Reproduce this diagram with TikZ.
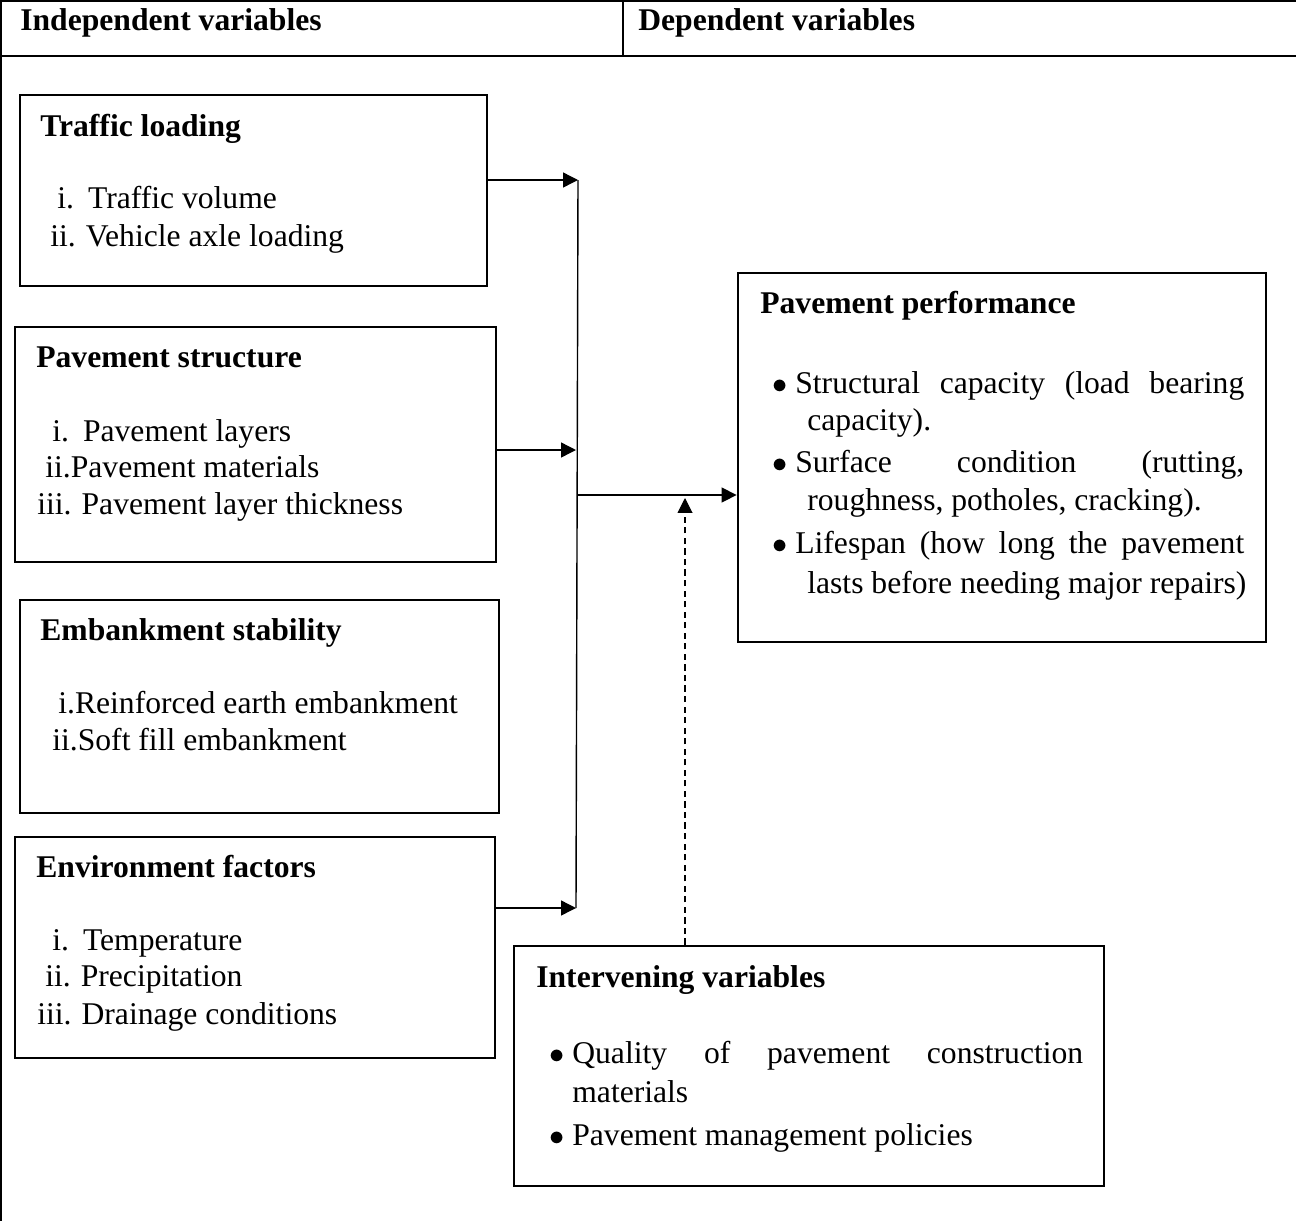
\documentclass[tikz,border=0pt]{standalone}
\usepackage{fontspec}
\setmainfont{Liberation Serif}
\usetikzlibrary{arrows.meta,positioning,fit}
\newcommand{\fs}{\fontsize{18}{22}\selectfont}
\newcommand{\bul}{\makebox[0.46cm][l]{$\bullet$}}

\begin{document}
\begin{tikzpicture}[x=0.02cm,y=-0.02cm,>=Stealth,font=\fs]
\tikzset{box/.style={draw,line width=1.6pt,inner sep=0pt,fill=none},
  frame/.style={line width=1.4pt},
  txt/.style={anchor=base west,inner sep=0pt},
  arr/.style={-{Triangle[length=8.5pt,width=8.5pt]},line width=0.8pt},
  darr/.style={-{Triangle[length=8.5pt,width=8.5pt]},line width=0.6pt,dash pattern=on 3.5pt off 2.5pt}}
\useasboundingbox (0,0) rectangle (1296,1221);
% table frame
\draw[frame] (1,1) -- (1296,1);
\draw[frame] (1,56) -- (1296,56);
\draw[frame] (1,0) -- (1,1221);
\draw[frame] (623,1) -- (623,56);
\node[txt] (hi) at (20,30) {\textbf{Independent variables}};
\node[txt] (hd) at (638,30) {\textbf{Dependent variables}};
% independent variables
\node[box,fit={(20,95)(487,286)}] (tl) {};
\node[txt] (tl-h) at (40,136) {\textbf{Traffic loading}};
\node[txt] (tl-1) at (57,208) {i.\hspace{0.28cm}Traffic volume};
\node[txt] (tl-2) at (50,246) {ii.\hspace{0.2cm}Vehicle axle loading};
\node[box,fit={(15,327)(496,562)}] (ps) {};
\node[txt] (ps-h) at (36,367) {\textbf{Pavement structure}};
\node[txt] (ps-1) at (52,441) {i.\hspace{0.28cm}Pavement layers};
\node[txt] (ps-2) at (45,477) {ii.Pavement materials};
\node[txt] (ps-3) at (37,514) {iii.\hspace{0.2cm}Pavement layer thickness};
\node[box,fit={(20,600)(499,813)}] (es) {};
\node[txt] (es-h) at (40,640) {\textbf{Embankment stability}};
\node[txt] (es-1) at (58,713) {i.Reinforced earth embankment};
\node[txt] (es-2) at (52,750) {ii.Soft fill embankment};
\node[box,fit={(15,837)(495,1058)}] (ef) {};
\node[txt] (ef-h) at (36,877) {\textbf{Environment factors}};
\node[txt] (ef-1) at (52,950) {i.\hspace{0.28cm}Temperature};
\node[txt] (ef-2) at (45,986) {ii.\hspace{0.2cm}Precipitation};
\node[txt] (ef-3) at (37,1024) {iii.\hspace{0.2cm}Drainage conditions};
% dependent variable
\node[box,fit={(738,273)(1266,642)}] (pp) {};
\node[txt] (pp-h) at (760,313) {\textbf{Pavement performance}};
\node[txt] (pp-1) at (772,393) {\bul\makebox[8.98cm][s]{Structural capacity (load bearing}};
\node[txt] (pp-1b) at (807,430) {capacity).};
\node[txt] (pp-2) at (772,472) {\bul\makebox[8.98cm][s]{Surface condition (rutting,}};
\node[txt] (pp-2b) at (807,510) {roughness, potholes, cracking).};
\node[txt] (pp-3) at (772,553) {\bul\makebox[8.98cm][s]{Lifespan (how long the pavement}};
\node[txt] (pp-3b) at (807,593) {lasts before needing major repairs)};
% intervening variables
\node[box,fit={(514,946)(1104,1186)}] (iv) {};
\node[txt] (iv-h) at (536,987) {\textbf{Intervening variables}};
\node[txt] (iv-1) at (549,1063) {\bul\makebox[10.22cm][s]{Quality of pavement construction}};
\node[txt] (iv-1b) at (572,1102) {materials};
\node[txt] (iv-2) at (549,1145) {\bul Pavement management policies};
% connectors
\coordinate (b1) at (578,180);
\coordinate (b2) at (576,450);
\coordinate (b3) at (576,908);
\coordinate (bo) at (578,495);
\coordinate (dv) at (685,498);
\draw[line width=0.8pt] (b1) -- (b3);
\draw[arr] (tl.east |- b1) -- (b1);
\draw[arr] (ps.east |- b2) -- (b2);
\draw[arr] (ef.east |- b3) -- (b3);
\draw[arr] (bo) -- (pp.west |- bo);
\draw[darr] (iv.north -| dv) -- (dv);
\end{tikzpicture}
\end{document}
